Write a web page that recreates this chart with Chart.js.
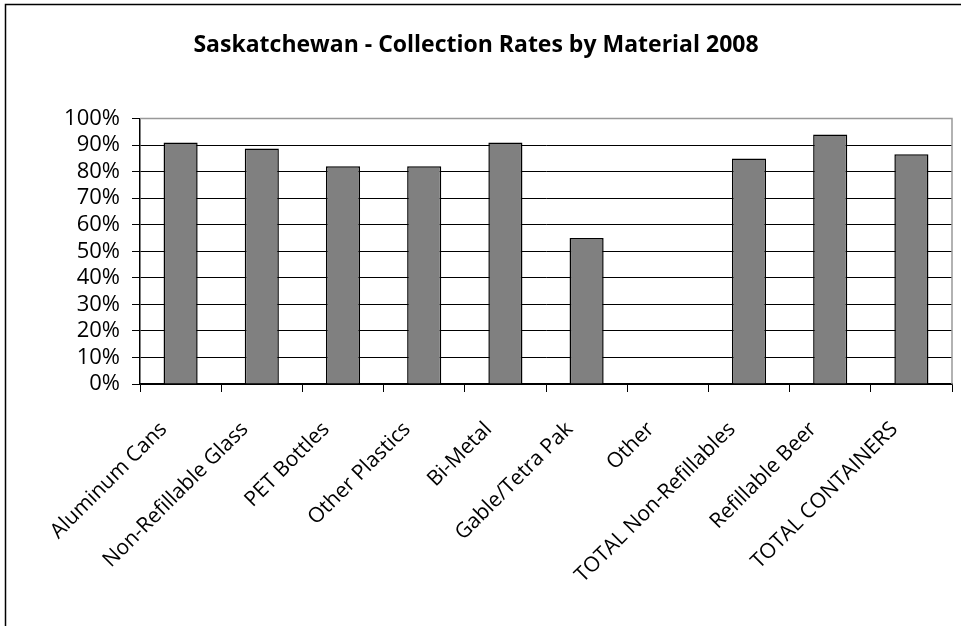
<!DOCTYPE html>
<html>
<head>
<meta charset="utf-8">
<script src="https://cdn.jsdelivr.net/npm/chart.js@4.4.1/dist/chart.umd.min.js"></script>
<style>
  html, body { margin: 0; padding: 0; background: #fff; }
  canvas { display: block; }
</style>
</head>
<body>
<canvas id="rates-chart" width="961" height="626"></canvas>
<script>
const categories = [
    'Aluminum Cans',
    'Non-Refillable Glass',
    'PET Bottles',
    'Other Plastics',
    'Bi-Metal',
    'Gable/Tetra Pak',
    'Other',
    'TOTAL Non-Refillables',
    'Refillable Beer',
    'TOTAL CONTAINERS'
];
const collectionRates = [91, 88.7, 82, 82, 91, 55, 0, 85, 94, 86.6];
const yTicks = [0, 10, 20, 30, 40, 50, 60, 70, 80, 90, 100];

const chartCanvas = document.querySelector('#rates-chart');

// outer frame of the chart box + gray top/right plot border
const framePlugin = {
    id: 'frame',
    beforeDraw(chart) {
        const ctx = chart.ctx;
        ctx.save();
        ctx.fillStyle = '#fff';
        ctx.fillRect(0, 0, chart.width, chart.height);
        ctx.strokeStyle = '#000';
        ctx.lineWidth = 1.5;
        ctx.strokeRect(5.5, 4.5, chart.width + 20, chart.height + 20);
        ctx.restore();
    },
    afterDatasetsDraw(chart) {
        const a = chart.chartArea;
        const ctx = chart.ctx;
        ctx.save();
        ctx.strokeStyle = '#999';
        ctx.lineWidth = 1.5;
        ctx.beginPath();
        ctx.moveTo(a.left, a.top);
        ctx.lineTo(a.right, a.top);
        ctx.lineTo(a.right, a.bottom);
        ctx.stroke();
        ctx.restore();
    }
};

var rateChart = new Chart(chartCanvas, {
    type: 'bar',
    data: {
        labels: categories,
        datasets: [{
            data: collectionRates,
            backgroundColor: '#808080',
            borderColor: '#000',
            borderWidth: 1.5,
            categoryPercentage: 1,
            barPercentage: 0.42
        }]
    },
    plugins: [framePlugin],
    options: {
        responsive: false,
        animation: false,
        layout: { padding: { left: 0, right: 9, top: 0, bottom: 0 } },
        plugins: {
            legend: { display: false },
            tooltip: { enabled: false },
            title: {
                display: true,
                text: 'Saskatchewan - Collection Rates by Material 2008',
                color: '#000',
                font: { family: 'Open Sans', size: 23, weight: 'bold' },
                padding: { top: 32, bottom: 59 }
            }
        },
        scales: {
            x: {
                grid: {
                    display: true,
                    drawOnChartArea: false,
                    offset: true,
                    color: '#000',
                    tickLength: 8,
                    lineWidth: 1
                },
                border: { color: '#000', width: 1.5 },
                ticks: {
                    color: '#000',
                    font: { family: 'Open Sans', size: 21 },
                    minRotation: 45,
                    maxRotation: 45,
                    autoSkip: false,
                    padding: 25,
                    labelOffset: -17
                },
                afterFit(scale) { scale.height = 242; }
            },
            y: {
                min: 0,
                max: 100,
                afterBuildTicks(scale) {
                    scale.ticks = yTicks.map(v => ({ value: v }));
                },
                grid: {
                    color: '#000',
                    lineWidth: 1,
                    tickLength: 8,
                    drawTicks: true
                },
                border: { color: '#000', width: 1.5 },
                ticks: {
                    color: '#000',
                    font: { family: 'Open Sans', size: 22 },
                    padding: 12,
                    autoSkip: false,
                    callback: v => v + '%'
                },
                afterFit(scale) { scale.width = 140; }
            }
        }
    }
});
</script>
</body>
</html>
